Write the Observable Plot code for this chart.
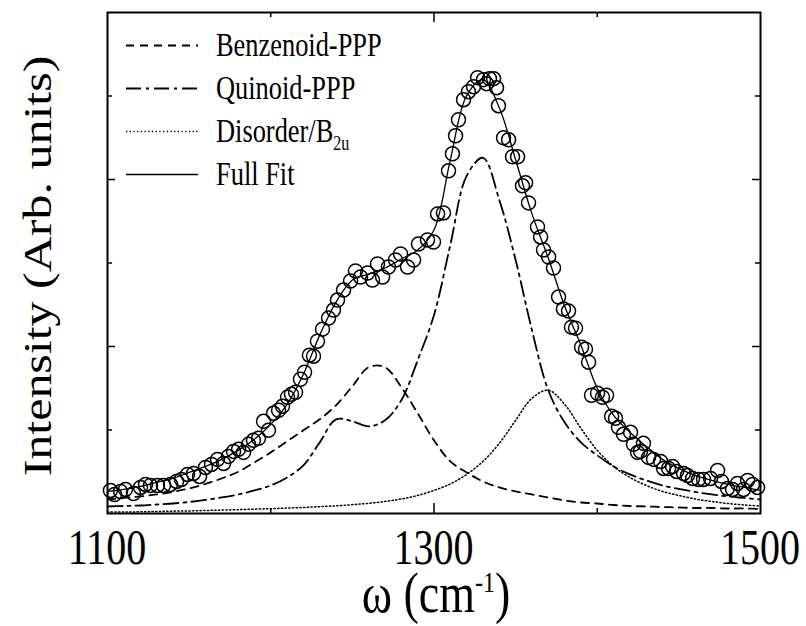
<!DOCTYPE html>
<html><head><meta charset="utf-8">
<script src="https://cdn.jsdelivr.net/npm/d3@7"></script>
<script src="https://cdn.jsdelivr.net/npm/@observablehq/plot@0.6"></script>
<style>body{margin:0;background:#fff}#chart svg{display:block}</style>
</head><body><div id="chart"></div>
<script>
// ---- data ----
const omegaGrid = [1100,1110,1120,1130,1140,1150,1160,1170,1180,1190,1200,1210,1220,1230,1240,1250,1260,1270,1280,1290,1300,1310,1320,1330,1340,1350,1360,1370,1380,1390,1400,1410,1420,1430,1440,1450,1460,1470,1480,1490,1500];
const benzenoid = [16.8,18.6,20.4,22.8,25.8,30,35.4,42,49.8,61.2,73.2,86.4,99.6,112.8,129.6,152.4,175.2,175.2,151.2,120,87.6,62.4,49.2,38.4,31.2,26.4,22.8,19.2,15.6,13.2,12,10.2,9,8.4,7.8,7.2,6.6,6.6,6,6,5.4];
const quinoid = [8.4,9,9.6,10.8,12,13.8,16.2,19.2,22.8,27.6,33.6,43.2,57.6,85.2,112.8,110.4,104.4,111.6,135.6,183.6,237.6,321.6,404.4,426,375.6,303.6,219.6,147.6,109.2,85.2,69.6,56.4,46.8,39.6,33.6,29.4,25.8,22.8,20.4,18.6,16.8];
const disorder = [1.8,1.8,2.0,2.4,2.8,3.1,3.6,4.1,4.6,5.2,5.8,6.5,7.2,8.2,9.2,10.6,12.2,14.4,17.4,21.6,27.6,35.4,46.8,62.4,84,111.6,138,147.6,130.8,102,75.6,56.4,43.2,33.6,26.4,21.6,17.4,14.4,12,10.2,9];
const fullFit = [26.4,28.8,32.4,37.2,42,49.2,56.4,64.8,75.6,88.8,106.8,130.8,166.8,213.6,253.2,279.6,286.8,294,304.8,315.6,339.6,423.6,500.4,519.6,486,423.6,358.8,306,248.4,201.6,150,117.6,97.2,80.4,64.8,54,45.6,39.6,34.8,31.2,27.6];

const dataOmega = [1101.8,1104.3,1108.0,1111.0,1115.9,1120.2,1123.3,1126.3,1130.6,1134.3,1138.6,1142.3,1145.3,1149.0,1152.7,1156.4,1160.0,1163.7,1167.4,1171.1,1174.1,1177.2,1180.3,1183.3,1186.4,1189.4,1192.5,1195.6,1198.6,1201.7,1204.8,1207.2,1210.3,1212.7,1215.2,1218.2,1220.7,1223.7,1226.2,1228.6,1231.7,1235.4,1238.4,1240.9,1244.6,1248.9,1251.9,1255.0,1259.3,1262.3,1265.4,1268.5,1272.1,1276.4,1279.5,1283.8,1287.5,1290.5,1296.0,1299.7,1302.2,1305.8,1308.9,1311.3,1313.2,1315.0,1318.1,1321.1,1324.2,1326.7,1330.3,1332.2,1334.0,1336.5,1338.3,1339.5,1342.6,1345.7,1348.1,1351.2,1354.2,1356.1,1357.9,1363.4,1365.3,1367.1,1370.2,1373.2,1376.3,1379.3,1382.4,1384.2,1386.7,1390.4,1392.8,1394.7,1396.5,1400.2,1403.2,1405.7,1408.8,1411.2,1413.0,1416.1,1420.4,1422.2,1424.7,1426.5,1428.3,1431.4,1434.5,1438.8,1440.6,1443.7,1446.1,1448.6,1452.9,1455.3,1458.4,1462.0,1465.1,1469.4,1473.7,1476.1,1479.8,1482.9,1485.9,1489.6,1492.1,1495.1,1498.2];
const dataIntensity = [27.6,22.8,26.4,28.8,24.0,31.2,34.8,33.6,33.6,33.6,34.8,38.4,40.8,46.8,48.0,44.4,55.2,58.8,64.8,60.0,68.4,74.4,76.8,73.2,82.8,87.6,90.0,110.4,99.6,120.0,123.6,128.4,139.2,142.8,145.2,160.8,169.2,189.6,188.4,206.4,220.8,234.0,243.6,255.6,267.6,278.4,290.4,283.2,288.0,279.6,298.8,283.2,295.2,303.6,310.8,295.2,303.6,322.8,327.6,325.2,358.8,360.0,410.4,430.8,452.4,471.6,495.6,505.2,511.2,522.0,519.6,514.8,520.8,520.8,510.0,488.4,450.0,447.6,427.2,427.2,392.4,396.0,372.0,343.2,331.2,315.6,307.2,294.0,259.2,244.8,242.4,223.2,222.0,199.2,196.8,181.2,141.6,144.0,139.2,141.6,116.4,114.0,103.2,94.8,97.2,82.8,73.2,74.4,84.0,67.2,64.8,62.4,54.0,54.0,56.4,50.4,48.0,45.6,42.0,40.8,40.8,42.0,51.6,38.4,30.0,28.8,36.0,28.8,39.6,34.8,31.2];

const xTickLabels = [1100, 1300, 1500];
const xMajorTicks = [1300];
const xMinorTicks = [1200, 1400];
const yMajorTicks = [200, 400];
const yMinorTicks = [100, 300, 500];
const seriesNames = ["Benzenoid-PPP", "Quinoid-PPP", "Disorder/B", "Full Fit"];
const xTitle = "ω (cm";
const yTitle = "Intensity (Arb. units)";

// ---- styles ----
const FONT = '"Liberation Serif", "Times New Roman", serif';
const S = 1.25; // vertical stretch of the reference lettering
const lineStyles = [
  {dash: "8,6", width: 1.8},
  {dash: "15,5,3,5", width: 1.8},
  {dash: "1.3,2.4", width: 1.5},
  {dash: null, width: 1.3}
];
const series = [benzenoid, quinoid, disorder, fullFit];
const tables = series.map(vals => omegaGrid.map((w, i) => ({w, v: vals[i]})));
const points = dataOmega.map((w, i) => ({w, v: dataIntensity[i]}));

const lineMarks = tables.map((t, k) => Plot.line(t, {
  x: "w", y: "v", stroke: "black", strokeWidth: lineStyles[k].width,
  strokeDasharray: lineStyles[k].dash || undefined, curve: "catmull-rom"
}));

const svg = Plot.plot({
  width: 806, height: 626,
  marginLeft: 107, marginRight: 46, marginTop: 12, marginBottom: 113,
  x: {domain: [1100, 1500], axis: null},
  y: {domain: [0, 600], axis: null},
  style: {fontFamily: FONT, background: "white", color: "black"},
  marks: [
    ...lineMarks,
    Plot.dot(points, {x: "w", y: "v", r: 7, stroke: "black", strokeWidth: 1.5, fill: "none"}),
    Plot.ruleX(xMajorTicks, {y1: 0, y2: 12, stroke: "black", strokeWidth: 1.5}),
    Plot.ruleX(xMinorTicks, {y1: 0, y2: 6, stroke: "black", strokeWidth: 1.5}),
    Plot.ruleX(xMajorTicks, {y1: 600, y2: 588, stroke: "black", strokeWidth: 1.5}),
    Plot.ruleX(xMinorTicks, {y1: 600, y2: 594, stroke: "black", strokeWidth: 1.5}),
    Plot.ruleY(yMajorTicks, {x1: 1100, x2: 1104.9, stroke: "black", strokeWidth: 1.5}),
    Plot.ruleY(yMinorTicks, {x1: 1100, x2: 1103.1, stroke: "black", strokeWidth: 1.5}),
    Plot.ruleY(yMajorTicks, {x1: 1500, x2: 1495.1, stroke: "black", strokeWidth: 1.5}),
    Plot.ruleY(yMinorTicks, {x1: 1500, x2: 1496.9, stroke: "black", strokeWidth: 1.5}),
    Plot.frame({stroke: "black", strokeWidth: 2})
  ]
});
document.getElementById("chart").append(svg);

const root = d3.select(svg);
const xs = svg.scale("x");
// x tick labels, placed with the plot's own x scale
xTickLabels.forEach(v => {
  root.append("text").attr("transform", `translate(${xs.apply(v)},564) scale(1,${S})`)
    .attr("text-anchor", "middle").attr("font-family", FONT).attr("font-size", 40)
    .attr("fill", "black").text(String(v));
});
// x title
const xt = root.append("text").attr("transform", `translate(436,612) scale(1,${S})`)
  .attr("text-anchor", "middle").attr("font-family", FONT).attr("font-size", 46).attr("fill", "black");
xt.append("tspan").text(xTitle);
xt.append("tspan").attr("font-size", 24).attr("dy", -16).text("-1");
xt.append("tspan").attr("dy", 16).text(")");
// y title
root.append("text").attr("transform", `translate(51,266) rotate(-90) scale(${S},1)`)
  .attr("text-anchor", "middle").attr("font-family", FONT).attr("font-size", 40).attr("fill", "black")
  .text(yTitle);
// legend
const legendBase = [56, 99, 142, 185];
seriesNames.forEach((name, k) => {
  const yb = legendBase[k];
  root.append("line").attr("x1", 126).attr("x2", 198).attr("y1", yb - 10.5).attr("y2", yb - 10.5)
    .attr("stroke", "black").attr("stroke-width", lineStyles[k].width)
    .attr("stroke-dasharray", lineStyles[k].dash);
  const t = root.append("text").attr("transform", `translate(216,${yb}) scale(1,${S})`)
    .attr("text-anchor", "start")
    .attr("font-family", FONT).attr("font-size", 26.4).attr("fill", "black");
  t.append("tspan").text(name);
  if (k === 2) t.append("tspan").attr("font-size", 16).attr("dy", 6).text("2u");
});
</script>
</body></html>
